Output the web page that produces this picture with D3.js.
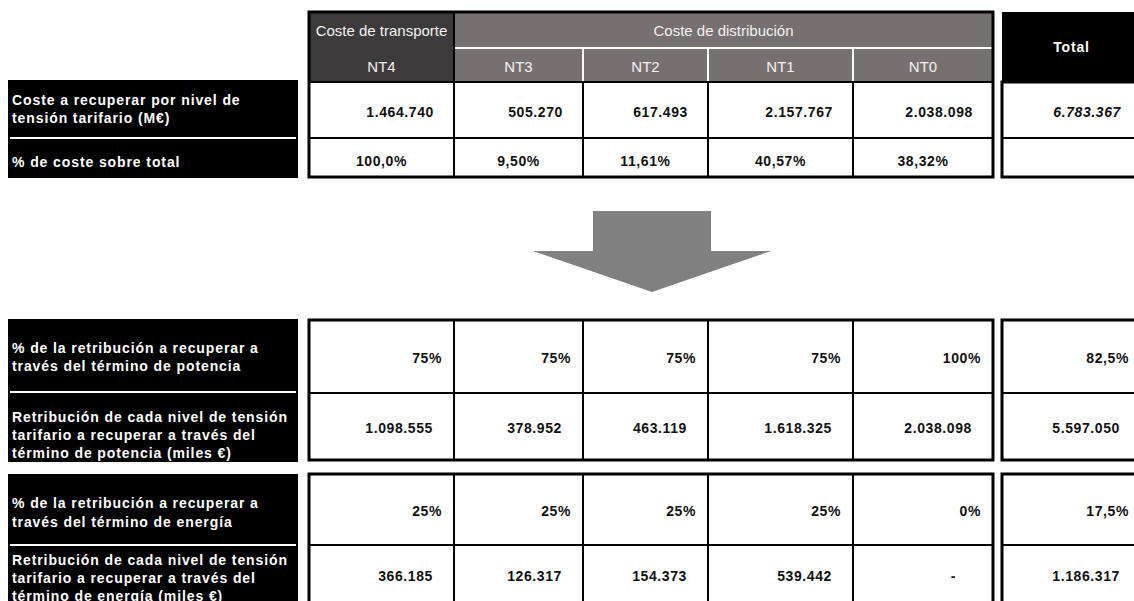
<!DOCTYPE html>
<html>
<head>
<meta charset="utf-8">
<script src="https://cdn.jsdelivr.net/npm/d3@7"></script>
<style>
  html, body { margin: 0; padding: 0; background: #fff; }
  svg { display: block; font-family: "Liberation Sans", Arial, sans-serif; }
  .lbl { fill: #fff; font-weight: bold; font-size: 14px; letter-spacing: 0.9px; }
  .num { fill: #111; font-weight: bold; font-size: 14px; letter-spacing: 0.6px; }
  .hdr { fill: #f2f2f2; font-size: 15px; }
</style>
</head>
<body>
<svg id="chart" width="1134" height="601"></svg>
<script>
// data
var levels = ["NT4", "NT3", "NT2", "NT1", "NT0"];
var groups = ["Coste de transporte", "Coste de distribución"];
var costeRecuperar = [1464740, 505270, 617493, 2157767, 2038098];
var costeTotal = 6783367;
var pctCoste = ["100,0%", "9,50%", "11,61%", "40,57%", "38,32%"];
var pctPotencia = [0.75, 0.75, 0.75, 0.75, 1];
var potencia = [1098555, 378952, 463119, 1618325, 2038098];
var pctPotenciaTotal = 0.825;
var potenciaTotal = 5597050;
var pctEnergia = [0.25, 0.25, 0.25, 0.25, 0];
var energia = [366185, 126317, 154373, 539442, 0];
var pctEnergiaTotal = 0.175;
var energiaTotal = 1186317;

var labelsTop = [["Coste a recuperar por nivel de", "tensión tarifario (M€)"], ["% de coste sobre total"]];
var labelsPot = [["% de la retribución a recuperar a", "través del término de potencia"],
                 ["Retribución de cada nivel de tensión", "tarifario a recuperar a través del", "término de potencia (miles €)"]];
var labelsEne = [["% de la retribución a recuperar a", "través del término de energía"],
                 ["Retribución de cada nivel de tensión", "tarifario a recuperar a través del", "término de energía (miles €)"]];

var es = d3.formatLocale({ decimal: ",", thousands: ".", grouping: [3], currency: ["", "€"] });
var fNum = function(v) { return v === 0 ? "-" : es.format(",")(v); };
var fPct0 = es.format(".0%");
var fPct1 = es.format(".1%");

var svg = d3.select("#chart");

// column layout
var xL = d3.scaleOrdinal().domain(levels).range([309, 454, 583, 708, 853]);
var xR = d3.scaleOrdinal().domain(levels).range([454, 583, 708, 853, 993]);
var tblL = 309, tblR = 993, totL = 1002, totR = 1141;

function leftBox(y0, y1, sepY, lines, centers) {
	svg.append("rect").attr("x", 8).attr("y", y0).attr("width", 290).attr("height", y1 - y0).attr("fill", "#000");
	svg.append("line").attr("x1", 10).attr("x2", 296).attr("y1", sepY).attr("y2", sepY)
		.attr("stroke", "#fff").attr("stroke-width", 2);
	lines.forEach(function(block, bi) {
		block.forEach(function(t, i) {
			svg.append("text").attr("class", "lbl").attr("x", 12).attr("y", centers[bi][i])
				.attr("dominant-baseline", "central").text(t);
		});
	});
}

function gridBox(y0, yMid, y1, x0, x1, cols) {
	var g = svg.append("g");
	g.append("line").attr("x1", x0).attr("x2", x1).attr("y1", yMid).attr("y2", yMid).attr("stroke", "#000").attr("stroke-width", 2);
	(cols || []).forEach(function(c, i) {
		if (i == 0) return;
		g.append("line").attr("x1", xL(c)).attr("x2", xL(c)).attr("y1", y0).attr("y2", y1).attr("stroke", "#000").attr("stroke-width", 2);
	});
	g.append("rect").attr("x", x0).attr("y", y0).attr("width", x1 - x0).attr("height", y1 - y0)
		.attr("fill", "none").attr("stroke", "#000").attr("stroke-width", 3);
}

function cellText(x, y, txt, anchor, italic) {
	svg.append("text").attr("class", "num").attr("x", x).attr("y", y)
		.attr("dominant-baseline", "central").attr("text-anchor", anchor)
		.attr("font-style", italic ? "italic" : null).text(txt);
}

// ---------- top table ----------
leftBox(80, 178, 138, labelsTop, [[100, 118], [162]]);

// header
svg.append("rect").attr("x", xL("NT4")).attr("y", 12).attr("width", xR("NT4") - xL("NT4")).attr("height", 70).attr("fill", "#3d3a3b");
svg.append("rect").attr("x", xL("NT3")).attr("y", 12).attr("width", xR("NT0") - xL("NT3")).attr("height", 70).attr("fill", "#767170");
svg.append("line").attr("x1", xL("NT3")).attr("x2", tblR).attr("y1", 48).attr("y2", 48).attr("stroke", "#fff").attr("stroke-width", 2);
levels.slice(2).forEach(function(l) {
	svg.append("line").attr("x1", xL(l)).attr("x2", xL(l)).attr("y1", 48).attr("y2", 82).attr("stroke", "#fff").attr("stroke-width", 2);
});
svg.append("text").attr("class", "hdr").attr("x", (xL("NT4") + xR("NT4")) / 2).attr("y", 30)
	.attr("text-anchor", "middle").attr("dominant-baseline", "central").text(groups[0]);
svg.append("text").attr("class", "hdr").attr("x", (xL("NT3") + xR("NT0")) / 2).attr("y", 30)
	.attr("text-anchor", "middle").attr("dominant-baseline", "central").text(groups[1]);
levels.forEach(function(l) {
	svg.append("text").attr("class", "hdr").attr("x", (xL(l) + xR(l)) / 2).attr("y", 66)
		.attr("text-anchor", "middle").attr("dominant-baseline", "central").text(l);
});
svg.append("line").attr("x1", tblL).attr("x2", tblR).attr("y1", 82).attr("y2", 82).attr("stroke", "#000").attr("stroke-width", 2);
svg.append("line").attr("x1", xL("NT3")).attr("x2", xL("NT3")).attr("y1", 12).attr("y2", 82).attr("stroke", "#000").attr("stroke-width", 2);
levels.slice(1).forEach(function(l) {
	svg.append("line").attr("x1", xL(l)).attr("x2", xL(l)).attr("y1", 82).attr("y2", 177).attr("stroke", "#000").attr("stroke-width", 2);
});
gridBox(12, 138, 177, tblL, tblR, null);

levels.forEach(function(l, i) {
	cellText(xR(l) - 20, 112, fNum(costeRecuperar[i]), "end");
	cellText((xL(l) + xR(l)) / 2, 161, pctCoste[i], "middle");
});

// total box
svg.append("rect").attr("x", totL).attr("y", 12).attr("width", totR - totL).attr("height", 70).attr("fill", "#000");
svg.append("text").attr("x", (totL + totR) / 2).attr("y", 47).attr("fill", "#fff").attr("font-weight", "bold")
	.attr("font-size", "14px").attr("letter-spacing", "0.8px").attr("text-anchor", "middle")
	.attr("dominant-baseline", "central").text("Total");
gridBox(82, 138, 177, totL, totR, null);
cellText(totR - 20, 112, fNum(costeTotal), "end", true);

// ---------- arrow ----------
svg.append("polygon")
	.attr("points", [[593, 211], [711, 211], [711, 251], [771, 251], [652, 292], [533, 251], [593, 251]].join(" "))
	.attr("fill", "#808080");

// ---------- potencia block ----------
leftBox(319, 462, 392, labelsPot, [[348, 366], [417, 435, 453]]);
gridBox(320, 393, 460, tblL, tblR, levels);
gridBox(320, 393, 460, totL, totR, null);
levels.forEach(function(l, i) {
	cellText(xR(l) - 12, 358, fPct0(pctPotencia[i]), "end");
	cellText(xR(l) - 21, 428, fNum(potencia[i]), "end");
});
cellText(totR - 12, 358, fPct1(pctPotenciaTotal), "end");
cellText(totR - 21, 428, fNum(potenciaTotal), "end");

// ---------- energia block ----------
leftBox(474, 615, 545, labelsEne, [[503, 522], [560, 578, 596]]);
gridBox(474, 545, 620, tblL, tblR, levels);
gridBox(474, 545, 620, totL, totR, null);
levels.forEach(function(l, i) {
	cellText(xR(l) - 12, 511, fPct0(pctEnergia[i]), "end");
	cellText(energia[i] === 0 ? xR(l) - 37 : xR(l) - 21, 576, fNum(energia[i]), "end");
});
cellText(totR - 12, 511, fPct1(pctEnergiaTotal), "end");
cellText(totR - 21, 576, fNum(energiaTotal), "end");
</script>
</body>
</html>
